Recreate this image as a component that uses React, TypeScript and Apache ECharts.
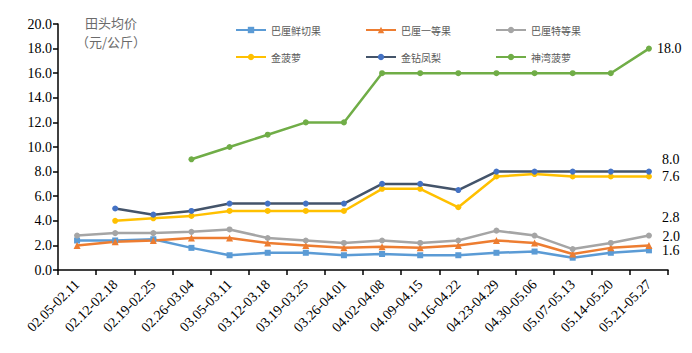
import React, { useEffect, useRef } from "react";
import * as echarts from "echarts";

const categories = [
  "02.05-02.11", "02.12-02.18", "02.19-02.25", "02.26-03.04", "03.05-03.11",
  "03.12-03.18", "03.19-03.25", "03.26-04.01", "04.02-04.08", "04.09-04.15",
  "04.16-04.22", "04.23-04.29", "04.30-05.06", "05.07-05.13", "05.14-05.20",
  "05.21-05.27",
];

const baliFreshCut = [2.4, 2.4, 2.5, 1.8, 1.2, 1.4, 1.4, 1.2, 1.3, 1.2, 1.2, 1.4, 1.5, 1.0, 1.4, 1.6];
const baliFirst = [2.0, 2.3, 2.4, 2.6, 2.6, 2.2, 2.0, 1.8, 1.9, 1.8, 2.0, 2.4, 2.2, 1.3, 1.8, 2.0];
const baliSpecial = [2.8, 3.0, 3.0, 3.1, 3.3, 2.6, 2.4, 2.2, 2.4, 2.2, 2.4, 3.2, 2.8, 1.7, 2.2, 2.8];
const goldPineapple = [null, 4.0, 4.2, 4.4, 4.8, 4.8, 4.8, 4.8, 6.6, 6.6, 5.1, 7.6, 7.8, 7.6, 7.6, 7.6];
const goldDiamond = [null, 5.0, 4.5, 4.8, 5.4, 5.4, 5.4, 5.4, 7.0, 7.0, 6.5, 8.0, 8.0, 8.0, 8.0, 8.0];
const shenwan = [null, null, null, 9.0, 10.0, 11.0, 12.0, 12.0, 16.0, 16.0, 16.0, 16.0, 16.0, 16.0, 16.0, 18.0];

const seriesNames = ["巴厘鲜切果", "巴厘一等果", "巴厘特等果", "金菠萝", "金钻凤梨", "神湾菠萝"];

export default function App() {
  const ref = useRef<HTMLDivElement>(null);
  useEffect(() => {
    if (!ref.current) return;
    const chart = echarts.init(ref.current, null, { renderer: "svg" });
    const serif = "'Liberation Serif', 'Times New Roman', serif";
    const cjk = "'Noto Sans CJK SC', sans-serif";

    const withEndLabel = (arr: (number | null)[], offset: number[]) =>
      arr.map((v, i) =>
        i === arr.length - 1
          ? {
              value: v,
              label: {
                show: true,
                position: "right",
                offset,
                formatter: (p: any) => Number(p.value).toFixed(1),
                fontFamily: serif,
                fontSize: 14,
                color: "#000",
              },
            }
          : v
      );

    const mk = (
      name: string,
      data: any[],
      color: string,
      symbol: string,
      lineColor?: string,
      symbolSize = 6
    ) => ({
      name,
      type: "line",
      data,
      symbol,
      symbolSize,
      showAllSymbol: true,
      itemStyle: { color },
      lineStyle: { color: lineColor || color, width: 2.5 },
      emphasis: { disabled: true },
    });

    const legendPos = [
      [230, 20],
      [360, 20],
      [490, 20],
      [230, 47],
      [360, 47],
      [490, 47],
    ];

    chart.setOption({
      animation: false,
      grid: { left: 58, right: 24, top: 24, bottom: 83, containLabel: false },
      legend: seriesNames.map((n, i) => ({
        data: [n],
        left: legendPos[i][0],
        top: legendPos[i][1],
        itemWidth: 30,
        itemHeight: 8,
        itemGap: 6,
        textStyle: { fontFamily: cjk, fontSize: 10, color: "#595959" },
        selectedMode: false,
      })),
      graphic: [
        {
          type: "text",
          x: 111,
          y: 13,
          style: {
            text: "田头均价\n（元/公斤）",
            fontFamily: cjk,
            fontSize: 13,
            fill: "#6b6b6b",
            lineHeight: 19,
            align: "center",
          },
        },
      ],
      xAxis: {
        type: "category",
        data: categories,
        boundaryGap: true,
        axisLine: { lineStyle: { color: "#000", width: 1.5 } },
        axisTick: { show: true, inside: false, length: 5, lineStyle: { color: "#000", width: 1.5 } },
        axisLabel: {
          interval: 0,
          rotate: 45,
          fontFamily: serif,
          fontSize: 14,
          color: "#000",
          margin: 12,
        },
      },
      yAxis: {
        type: "value",
        min: 0,
        max: 20,
        interval: 2,
        splitLine: { show: false },
        axisLine: { show: true, lineStyle: { color: "#000", width: 1.5 } },
        axisTick: { show: true, inside: false, length: 5, lineStyle: { color: "#000", width: 1.5 } },
        axisLabel: {
          formatter: (v: number) => v.toFixed(1),
          fontFamily: serif,
          fontSize: 14,
          color: "#000",
          margin: 6,
        },
      },
      series: [
        mk(seriesNames[0], withEndLabel(baliFreshCut, [5, 0]), "#5B9BD5", "rect"),
        mk(seriesNames[1], withEndLabel(baliFirst, [5, -9]), "#ED7D31", "triangle", undefined, 7),
        mk(seriesNames[2], withEndLabel(baliSpecial, [5, -18]), "#A5A5A5", "circle"),
        mk(seriesNames[3], withEndLabel(goldPineapple, [5, 0]), "#FFC000", "circle"),
        mk(seriesNames[4], withEndLabel(goldDiamond, [5, -12]), "#4472C4", "circle", "#44546A"),
        mk(seriesNames[5], withEndLabel(shenwan, [0, 0]), "#70AD47", "circle"),
      ],
    });
    return () => chart.dispose();
  }, []);
  return <div ref={ref} style={{ width: 692, height: 353, margin: -8 }} />;
}
